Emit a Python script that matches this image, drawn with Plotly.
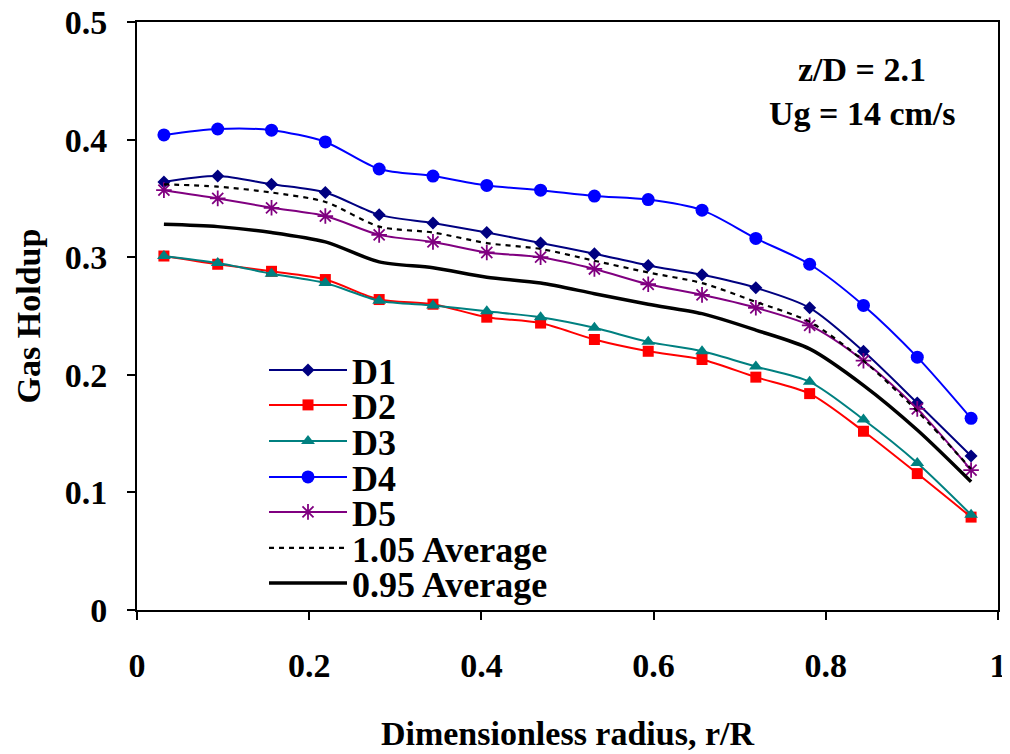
import plotly.graph_objects as go

# Dimensionless radius r/R
r_R = [0.03125, 0.09375, 0.15625, 0.21875, 0.28125, 0.34375, 0.40625, 0.46875,
       0.53125, 0.59375, 0.65625, 0.71875, 0.78125, 0.84375, 0.90625, 0.96875]

D1 = [0.364, 0.369, 0.362, 0.355, 0.336, 0.329, 0.321, 0.312,
      0.303, 0.293, 0.285, 0.274, 0.257, 0.220, 0.176, 0.131]
D2 = [0.301, 0.294, 0.288, 0.281, 0.264, 0.260, 0.249, 0.244,
      0.230, 0.220, 0.213, 0.198, 0.184, 0.152, 0.116, 0.079]
D3 = [0.301, 0.295, 0.286, 0.278, 0.263, 0.259, 0.254, 0.249,
      0.240, 0.228, 0.220, 0.207, 0.194, 0.162, 0.125, 0.081]
D4 = [0.404, 0.409, 0.408, 0.398, 0.375, 0.369, 0.361, 0.357,
      0.352, 0.349, 0.340, 0.316, 0.294, 0.259, 0.215, 0.163]
D5 = [0.357, 0.350, 0.342, 0.335, 0.319, 0.313, 0.304, 0.300,
      0.290, 0.277, 0.268, 0.257, 0.242, 0.212, 0.171, 0.119]
avg_105 = [0.362, 0.360, 0.355, 0.347, 0.326, 0.321, 0.312, 0.307,
           0.297, 0.287, 0.278, 0.262, 0.245, 0.212, 0.169, 0.120]
avg_095 = [0.328, 0.326, 0.321, 0.313, 0.296, 0.291, 0.283, 0.278,
           0.269, 0.260, 0.252, 0.238, 0.222, 0.191, 0.153, 0.109]

x_ticks = [0, 0.2, 0.4, 0.6, 0.8, 1]
x_tick_text = ["0", "0.2", "0.4", "0.6", "0.8", "1"]
y_ticks = [0, 0.1, 0.2, 0.3, 0.4, 0.5]
y_tick_text = ["0", "0.1", "0.2", "0.3", "0.4", "0.5"]

FONT = "Liberation Serif"
FS = 34
LFS = 36

# The page body has an 8 px margin, so the figure is drawn 8 px in from
# the top-left corner of the window; size and margins account for that.
OFF = 8
W, H = 1010 - OFF, 754 - OFF
L, T = 137 - OFF, 22 - OFF
R = W - (998 - OFF)
B = H - (610 - OFF)
PW, PH = W - L - R, H - T - B


def px_to_paper_x(px):
    return (px - OFF - L) / PW


def px_to_paper_y(py):
    return (H - B - (py - OFF)) / PH


series = [
    ("D1", D1, "#000080", dict(symbol="diamond", size=10, color="#000080")),
    ("D2", D2, "#FF0000", dict(symbol="square", size=11, color="#FF0000")),
    ("D3", D3, "#008080", dict(symbol="triangle-up", size=12, color="#008080")),
    ("D4", D4, "#0000FF", dict(symbol="circle", size=13, color="#0000FF")),
    ("D5", D5, "#800080", dict(symbol="asterisk-open", size=13, color="#800080",
                               line=dict(color="#800080", width=1.8))),
]

fig = go.Figure()
legend_rows_px = [370, 405, 441, 477, 512, 548, 583]
legend_names = ["legend", "legend2", "legend3", "legend4", "legend5", "legend6", "legend7"]

for i, (name, ys, col, mk) in enumerate(series):
    fig.add_trace(go.Scatter(
        x=r_R, y=ys, name="<b>%s</b>" % name, mode="lines+markers",
        line=dict(color=col, width=2, shape="spline", smoothing=0.8),
        marker=mk, legend=legend_names[i]))

fig.add_trace(go.Scatter(
    x=r_R, y=avg_105, name="<b>1.05 Average</b>", mode="lines",
    line=dict(color="black", width=2.2, dash="5px,5px", shape="spline", smoothing=0.8),
    legend=legend_names[5]))
fig.add_trace(go.Scatter(
    x=r_R, y=avg_095, name="<b>0.95 Average</b>", mode="lines",
    line=dict(color="black", width=3.5, shape="spline", smoothing=0.8),
    legend=legend_names[6]))

legend_left_px = 264
layout_legends = {}
for ln, py in zip(legend_names, legend_rows_px):
    layout_legends[ln] = dict(
        x=px_to_paper_x(legend_left_px), y=px_to_paper_y(py),
        xanchor="left", yanchor="middle",
        bgcolor="rgba(0,0,0,0)", borderwidth=0,
        font=dict(family=FONT, size=LFS, color="black"),
        itemwidth=78, tracegroupgap=0)

fig.update_layout(
    width=W, height=H,
    margin=dict(l=L, r=R, t=T, b=B, autoexpand=False),
    paper_bgcolor="white", plot_bgcolor="white",
    font=dict(family=FONT, size=FS, color="black"),
    showlegend=True,
    **layout_legends,
    annotations=[
        dict(text="<b>z/D = 2.1</b>", x=px_to_paper_x(862), y=px_to_paper_y(70),
             xref="paper", yref="paper", xanchor="center", yanchor="middle",
             showarrow=False, font=dict(family=FONT, size=FS, color="black")),
        dict(text="<b>Ug = 14 cm/s</b>", x=px_to_paper_x(862), y=px_to_paper_y(114),
             xref="paper", yref="paper", xanchor="center", yanchor="middle",
             showarrow=False, font=dict(family=FONT, size=FS, color="black")),
    ],
)

fig.update_xaxes(
    range=[0, 1], tickvals=x_ticks, ticktext=["<b>%s</b>" % t for t in x_tick_text],
    ticks="outside", ticklen=8, tickwidth=1.5, tickcolor="black",
    showline=True, linewidth=2, linecolor="black", mirror=True,
    showgrid=False, zeroline=False, ticklabelstandoff=16, automargin=False,
    ticklabeloverflow="allow",
    tickfont=dict(family=FONT, size=FS, color="black"),
    title=dict(text="<b>Dimensionless radius, r/R</b>", standoff=38,
               font=dict(family=FONT, size=FS, color="black")),
)
fig.update_yaxes(
    range=[0, 0.5], tickvals=y_ticks, ticktext=["<b>%s</b>" % t for t in y_tick_text],
    ticks="outside", ticklen=8, tickwidth=1.5, tickcolor="black",
    showline=True, linewidth=2, linecolor="black", mirror=True,
    showgrid=False, zeroline=False, ticklabelstandoff=13, automargin=False,
    ticklabeloverflow="allow",
    tickfont=dict(family=FONT, size=FS, color="black"),
    title=dict(text="<b>Gas Holdup</b>", standoff=14,
               font=dict(family=FONT, size=FS, color="black")),
)

fig.write_html("out.html")
